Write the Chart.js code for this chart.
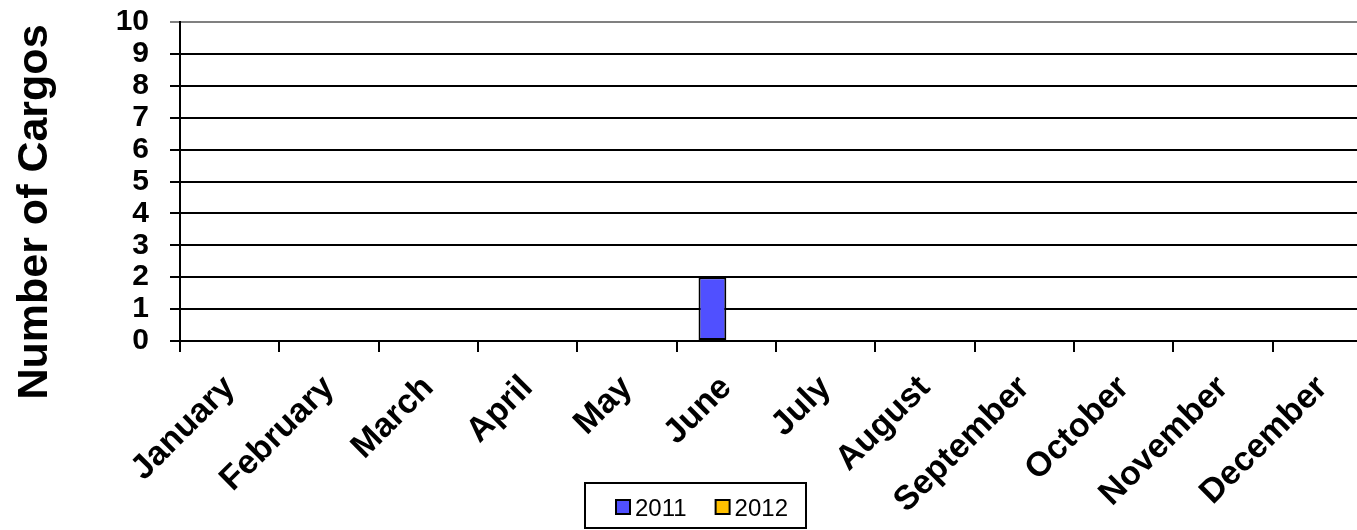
<!DOCTYPE html>
<html>
<head>
<meta charset="utf-8">
<script src="https://cdn.jsdelivr.net/npm/chart.js@4.4.1/dist/chart.umd.min.js"></script>
<style>
    html, body { margin: 0; padding: 0; overflow: hidden; background: #fff; }
    #wrap { width: 1400px; height: 530px; position: relative; }
</style>
</head>
<body>
<div id="wrap"><canvas id="cargoChart"></canvas></div>
<script>
// Chart data
const months = ['January', 'February', 'March', 'April', 'May', 'June',
    'July', 'August', 'September', 'October', 'November', 'December'];
const cargos2011 = [0, 0, 0, 0, 0, 2, 0, 0, 0, 0, 0, 0];
const cargos2012 = [0, 0, 0, 0, 0, 0, 0, 0, 0, 0, 0, 0];
const yTitle = 'Number of Cargos';

const FONT = "'Liberation Sans', Arial, sans-serif";

// Draws the rotated y title and a boxed legend under the month labels
const extras = {
    id: 'extras',
    afterDraw(chart) {
        const c = chart.ctx;
        c.save();
        c.fillStyle = '#000';
        c.font = 'bold 43px ' + FONT;
        c.textAlign = 'center';
        c.textBaseline = 'alphabetic';
        c.translate(47, 212);
        c.rotate(-Math.PI / 2);
        c.fillText(yTitle, 0, 0);
        c.restore();

        // legend
        c.save();
        c.font = '24px ' + FONT;
        c.textBaseline = 'alphabetic';
        c.textAlign = 'left';
        let x = 616;
        const first = x;
        chart.data.datasets.forEach((ds, i) => {
            if (i > 0) x += 29;
            c.fillStyle = ds.backgroundColor;
            c.fillRect(x, 500, 14, 14);
            c.strokeStyle = '#000';
            c.lineWidth = 2;
            c.strokeRect(x, 500, 14, 14);
            c.fillStyle = '#000';
            c.fillText(ds.label, x + 19, 516);
            x += 19 + c.measureText(ds.label).width;
        });
        c.strokeRect(first - 31, 483, x + 18 - (first - 31), 45);
        c.restore();
    }
};

new Chart(document.getElementById('cargoChart'), {
    type: 'bar',
    data: {
        labels: months,
        datasets: [
            {
                label: '2011',
                data: cargos2011,
                backgroundColor: '#5050FF',
                borderColor: '#000',
                borderWidth: 2,
                borderSkipped: false
            },
            {
                label: '2012',
                data: cargos2012,
                backgroundColor: '#FFC000',
                borderColor: '#000',
                borderWidth: 2,
                borderSkipped: false
            }
        ]
    },
    options: {
        responsive: true,
        maintainAspectRatio: false,
        animation: false,
        layout: { padding: { top: 22, right: 28, bottom: 0, left: 36 } },
        datasets: { bar: { categoryPercentage: 0.56, barPercentage: 1 } },
        plugins: {
            legend: { display: false },
            tooltip: { enabled: false }
        },
        scales: {
            x: {
                afterFit(scale) { scale.height = 189; },
                border: { color: '#000', width: 2 },
                grid: {
                    offset: true,
                    drawOnChartArea: false,
                    color: '#000',
                    lineWidth: 2,
                    tickLength: 11
                },
                ticks: {
                    color: '#000',
                    minRotation: 45,
                    maxRotation: 45,
                    autoSkip: false,
                    padding: 16,
                    font: { family: FONT, size: 34, weight: 'bold' }
                }
            },
            y: {
                min: 0,
                max: 10,
                afterFit(scale) {
                    scale.width = 144;
                    // keep the tick padding from pushing the plot top down
                    scale.paddingTop = 15;
                    scale.paddingBottom = 15;
                },
                border: { color: '#000', width: 2 },
                grid: {
                    color: (ctx) => ctx.tick && ctx.tick.value === 10 ? '#808080' : '#000',
                    lineWidth: 2,
                    tickLength: 10
                },
                ticks: {
                    stepSize: 1,
                    autoSkip: false,
                    color: '#000',
                    padding: 21,
                    font: { family: FONT, size: 30, weight: 'bold', lineHeight: 1 }
                }
            }
        }
    },
    plugins: [extras]
});
</script>
</body>
</html>
